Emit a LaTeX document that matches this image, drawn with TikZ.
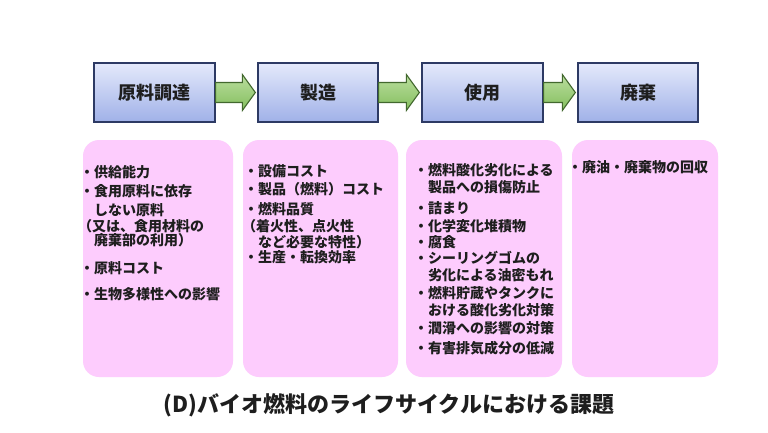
\documentclass[tikz,border=0pt]{standalone}
\usepackage{fontspec}
\setmainfont{Noto Sans CJK JP}
\usetikzlibrary{calc}

\definecolor{stageedge}{RGB}{45,58,100}
\definecolor{stagetop}{RGB}{228,233,251}
\definecolor{stagebottom}{RGB}{160,177,232}
\definecolor{arrowedge}{RGB}{66,104,46}
\definecolor{arrowtop}{RGB}{186,222,158}
\definecolor{arrowbottom}{RGB}{132,190,94}
\definecolor{issuefill}{RGB}{253,204,253}
\definecolor{inktext}{RGB}{30,30,30}

\begin{document}
\begin{tikzpicture}[x=1pt,y=-1pt,
  stage/.style={draw=stageedge,line width=1.3pt,top color=stagetop,bottom color=stagebottom,
    minimum width=120pt,minimum height=59pt,font=\fontsize{18}{20}\selectfont\bfseries,text=inktext},
  issue/.style={fill=issuefill,rounded corners=16pt,minimum height=237pt,inner sep=0pt},
  issuetext/.style={anchor=north west,align=left,inner sep=0pt,
    font=\fontsize{14}{16}\selectfont\bfseries,text=inktext},
  flow/.style={draw=arrowedge,line width=1.1pt,top color=arrowtop,bottom color=arrowbottom}]
\useasboundingbox[fill=white] (0,0) rectangle (768,432);

\node[stage,minimum width=121pt] (procure) at (154.5,92.5) {原料調達};
\node[stage] (produce) at (318,92.5) {製造};
\node[stage,minimum width=121pt] (usage) at (482.5,92.5) {使用};
\node[stage] (dispose) at (638,92.5) {廃棄};

\draw[flow] let \p1=(procure.east), \p2=(produce.west) in
  (\x1,\y1+10pt) -- (\x2-15pt,\y1+10pt) -- (\x2-15pt,\y1+18pt) -- (\x2-2pt,\y1)
  -- (\x2-15pt,\y1-18pt) -- (\x2-15pt,\y1-10pt) -- (\x1,\y1-10pt) -- cycle;
\draw[flow] let \p1=(produce.east), \p2=(usage.west) in
  (\x1,\y1+10pt) -- (\x2-15pt,\y1+10pt) -- (\x2-15pt,\y1+18pt) -- (\x2-2pt,\y1)
  -- (\x2-15pt,\y1-18pt) -- (\x2-15pt,\y1-10pt) -- (\x1,\y1-10pt) -- cycle;
\draw[flow] let \p1=(usage.east), \p2=(dispose.west) in
  (\x1,\y1+10pt) -- (\x2-15pt,\y1+10pt) -- (\x2-15pt,\y1+18pt) -- (\x2-2pt,\y1)
  -- (\x2-15pt,\y1-18pt) -- (\x2-15pt,\y1-10pt) -- (\x1,\y1-10pt) -- cycle;

\node[issue,minimum width=150pt] (supplyissues) at (158,258.5) {};
\node[issue,minimum width=155pt] (makeissues) at (320.5,258.5) {};
\node[issue,minimum width=156pt] (useissues) at (484,258.5) {};
\node[issue,minimum width=146pt] (endissues) at (645,258.5) {};

\node[issuetext] (supplytext) at ($(supplyissues.north west)+(-3,25)$) {%
  ・供給能力\\[3pt]
  ・食用原料に依存\\[3pt]
  \phantom{・}しない原料\\
  \hspace*{-2pt}（又は、食用材料の\\[-2pt]
  \phantom{・}廃棄部の利用）\\[12pt]
  ・原料コスト\\[10pt]
  ・生物多様性への影響};
\node[issuetext] (maketext) at ($(makeissues.north west)+(1,25)$) {%
  ・設備コスト\\[2pt]
  ・製品（燃料）コスト\\[4pt]
  ・燃料品質\\[1pt]
  \hspace*{-2pt}（着火性、点火性\\
  \phantom{・}など必要な特性）\\[-1pt]
  ・生産・転換効率};
\node[issuetext] (usetext) at ($(useissues.north west)+(8,23)$) {%
  ・燃料酸化劣化による\\[1pt]
  \phantom{・}製品への損傷防止\\[5pt]
  ・詰まり\\[2pt]
  ・化学変化堆積物\\
  ・腐食\\
  ・シーリングゴムの\\[1pt]
  \phantom{・}劣化による油密もれ\\[2pt]
  ・燃料貯蔵やタンクに\\[1pt]
  \phantom{・}おける酸化劣化対策\\[2pt]
  ・潤滑への影響の対策\\[4pt]
  ・有害排気成分の低減};
\node[issuetext] (endtext) at ($(endissues.north west)+(-4,21)$) {・廃油・廃棄物の回収};

\node[font=\fontsize{22}{24}\selectfont\bfseries,text=inktext] (caption) at (389,405)
  {(D)バイオ燃料のライフサイクルにおける課題};
\end{tikzpicture}
\end{document}
